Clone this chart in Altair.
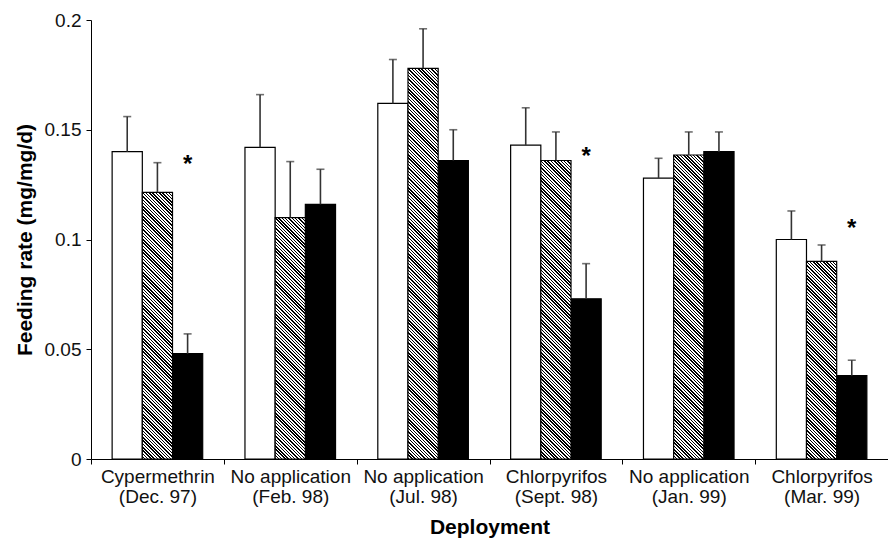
import altair as alt
import pandas as pd

# ---- data ----
treatments = ["Cypermethrin", "No application", "No application",
              "Chlorpyrifos", "No application", "Chlorpyrifos"]
dates = ["(Dec. 97)", "(Feb. 98)", "(Jul. 98)", "(Sept. 98)", "(Jan. 99)", "(Mar. 99)"]
series = ["open", "hatched", "solid"]

open_mean = [0.140, 0.142, 0.162, 0.143, 0.128, 0.100]
open_upper = [0.156, 0.166, 0.182, 0.160, 0.137, 0.113]
hatched_mean = [0.1215, 0.110, 0.178, 0.136, 0.1385, 0.090]
hatched_upper = [0.135, 0.1355, 0.196, 0.149, 0.149, 0.0975]
solid_mean = [0.048, 0.116, 0.136, 0.073, 0.140, 0.038]
solid_upper = [0.057, 0.132, 0.150, 0.089, 0.149, 0.045]

asterisk_groups = [0, 3, 5]
asterisk_y = [0.137, 0.141, 0.108]

y_ticks = [0, 0.05, 0.1, 0.15, 0.2]

# ---- layout ----
PLOT_W = 797
PLOT_H = 439
Y_MAX = 0.2
OFFSET_OUTER = 0.7
FONT = "Liberation Sans"

group_keys = [f"{t}|{d}" for t, d in zip(treatments, dates)]

rows = []
for i, g in enumerate(group_keys):
    for s, m, u in zip(series,
                       [open_mean[i], hatched_mean[i], solid_mean[i]],
                       [open_upper[i], hatched_upper[i], solid_upper[i]]):
        rows.append({"group": g, "gidx": i, "series": s, "value": m, "upper": u})
df = pd.DataFrame(rows)

ast_df = pd.DataFrame({
    "group": [group_keys[i] for i in asterisk_groups],
    "series": ["solid"] * len(asterisk_groups),
    "y": asterisk_y,
    "t": ["*"] * len(asterisk_groups),
})

x_enc = alt.X("group:N",
              scale=alt.Scale(domain=group_keys, paddingInner=0, paddingOuter=0),
              axis=alt.Axis(title="Deployment", labelExpr="split(datum.label, '|')",
                            labelAngle=0, tickBand="extent", tickSize=5,
                            labelFontSize=19, labelLineHeight=20, labelPadding=3,
                            titleFontSize=21, titleFontWeight="bold", titlePadding=10,
                            labelColor="#111111", titleColor="black",
                            domainColor="black", tickColor="black"))
xo_enc = alt.XOffset("series:N",
                     scale=alt.Scale(domain=series, paddingInner=0, paddingOuter=OFFSET_OUTER))
y_scale = alt.Scale(domain=[0, Y_MAX], nice=False)
y_enc = alt.Y("value:Q", scale=y_scale,
              axis=alt.Axis(title="Feeding rate (mg/mg/d)", values=y_ticks, format="~g",
                            grid=False, tickSize=5, labelPadding=5,
                            labelFontSize=19, titleFontSize=21, titleFontWeight="bold",
                            titlePadding=9, labelColor="#111111", titleColor="black",
                            domainColor="black", tickColor="black"))

base = alt.Chart(df)

plain_bars = base.transform_filter(alt.datum.series != "hatched").mark_bar(
    stroke="black", strokeWidth=1.2
).encode(
    x=x_enc, xOffset=xo_enc, y=y_enc,
    fill=alt.Fill("series:N", scale=alt.Scale(domain=series, range=["white", "white", "black"]),
                  legend=None),
)

# hatched bars: striped linear gradient built per bar so stripes run at 45 degrees
bar_w = PLOT_W / len(group_keys) / (len(series) + 2 * OFFSET_OUTER)
PERIOD = 3.3   # horizontal stripe period in px
DARK = 0.45


def hatch_gradient(v):
    w = bar_w
    h = v / Y_MAX * PLOT_H
    k = (w + h) / (w * w + h * h)
    n = (w + h) / PERIOD
    stops = []
    j = 0
    while j / n < 1:
        a = j / n
        b = min((j + DARK) / n, 1.0)
        c = min((j + 1) / n, 1.0)
        stops += [{"color": "black", "offset": float(a)},
                  {"color": "black", "offset": float(b)},
                  {"color": "white", "offset": float(b)},
                  {"color": "white", "offset": float(c)}]
        j += 1
    return {"gradient": "linear", "x1": 1.0, "y1": 0.0,
            "x2": float(1 - w * k), "y2": float(h * k), "stops": stops}


hatched_layers = []
for i, v in enumerate(hatched_mean):
    hatched_layers.append(
        base.transform_filter((alt.datum.series == "hatched") & (alt.datum.gidx == i))
        .mark_bar(stroke="black", strokeWidth=1.2, fill=hatch_gradient(v))
        .encode(x=x_enc, xOffset=xo_enc, y=y_enc)
    )

err_rule = base.mark_rule(color="#333333", strokeWidth=1.6).encode(
    x=x_enc, xOffset=xo_enc, y=y_enc, y2="upper:Q"
)
err_cap = base.mark_tick(color="#333333", thickness=1.6, size=8, orient="horizontal").encode(
    x=x_enc, xOffset=xo_enc, y=alt.Y("upper:Q", scale=y_scale)
)

stars = alt.Chart(ast_df).mark_text(
    fontSize=24, fontWeight="bold", color="black", baseline="middle", align="center",
    font=FONT, dy=7
).encode(
    x=x_enc, xOffset=xo_enc, y=alt.Y("y:Q", scale=y_scale), text="t:N"
)

chart = alt.layer(plain_bars, *hatched_layers, err_rule, err_cap, stars).properties(
    width=PLOT_W, height=PLOT_H,
    autosize=alt.AutoSizeParams(type="none"),
    padding={"left": 83, "top": 12, "right": 0, "bottom": 79},
).configure(font=FONT).configure_view(stroke=None)

chart.save("out.html", embed_options={"renderer": "svg", "actions": False})
